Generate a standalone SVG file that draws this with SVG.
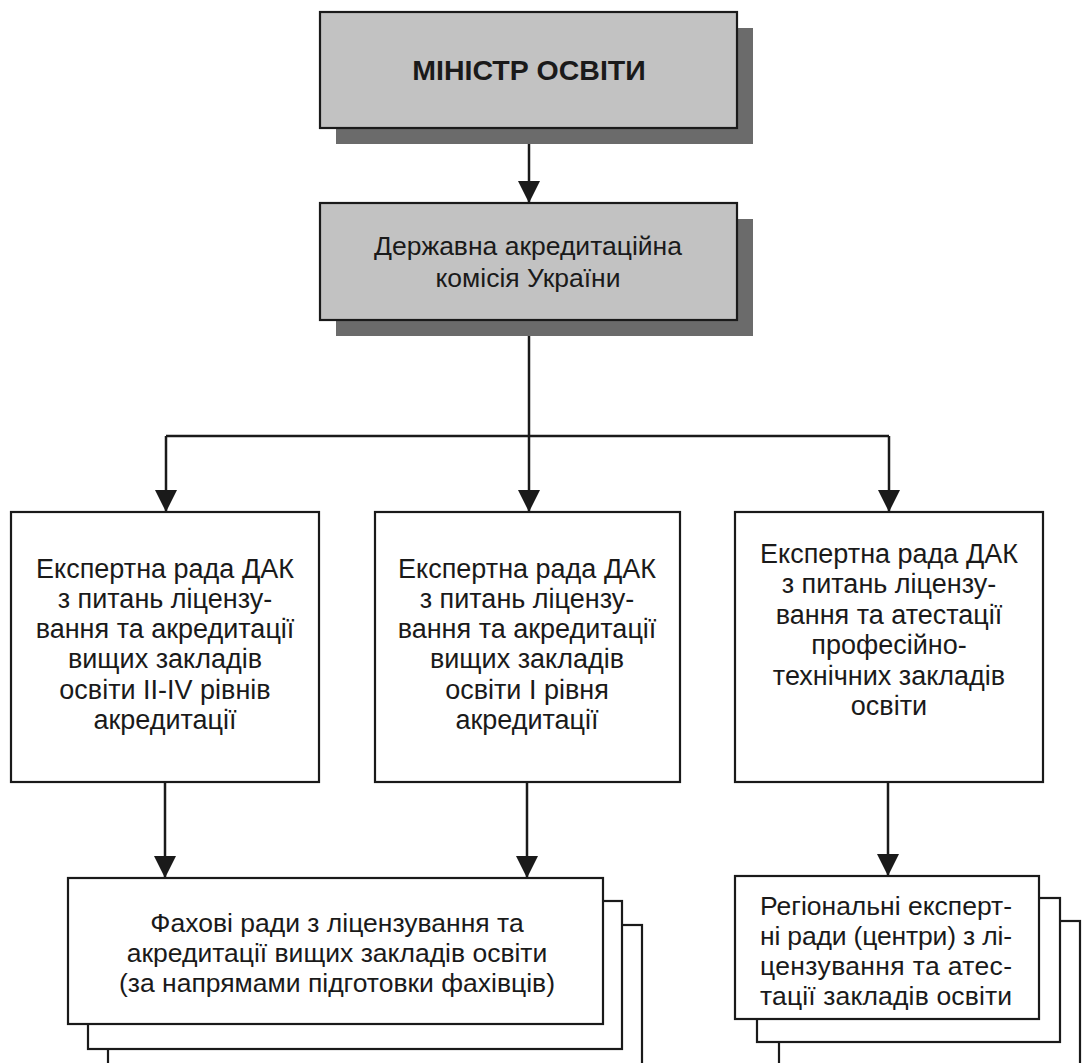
<svg xmlns="http://www.w3.org/2000/svg" width="1083" height="1063" viewBox="0 0 1083 1063">
<style>
  .bg { fill: #ffffff; }
  .box { fill: #ffffff; stroke: #1a1a1a; stroke-width: 2.2; }
  .gbox { fill: #c2c2c2; stroke: #1a1a1a; stroke-width: 2.2; }
  .shadow { fill: #6b6b6b; stroke: none; }
  .t { font-family: "Liberation Sans", Arial, sans-serif; font-size: 26.5px; fill: #1a1a1a; text-anchor: middle; }
  .tc { font-family: "Liberation Sans", Arial, sans-serif; font-size: 27px; fill: #1a1a1a; text-anchor: middle; }
  .tb { font-family: "Liberation Sans", Arial, sans-serif; font-size: 28.5px; font-weight: bold; fill: #1a1a1a; text-anchor: middle; }
  .tj { font-family: "Liberation Sans", Arial, sans-serif; font-size: 26.5px; fill: #1a1a1a; }
  .line { fill: none; stroke: #1a1a1a; stroke-width: 2.5; }
  .arrow { fill: none; stroke: #1a1a1a; stroke-width: 2.5; marker-end: url(#ah); }
</style>
<defs>
  <marker id="ah" markerUnits="userSpaceOnUse" markerWidth="22" markerHeight="22" refX="22" refY="11" orient="auto">
    <path d="M0,0 L22,11 L0,22 Z" fill="#1a1a1a"/>
  </marker>
</defs>
<rect class="bg" x="0" y="0" width="1083" height="1063"/>

<g id="connectors">
  <path class="arrow" d="M529,144 L529,203"/>
  <path class="line" d="M529,336 L529,436"/>
  <path class="line" d="M166,436 L889,436"/>
  <path class="arrow" d="M166,436 L166,512"/>
  <path class="arrow" d="M529,436 L529,512"/>
  <path class="arrow" d="M889,436 L889,512"/>
  <path class="arrow" d="M165,782 L165,878"/>
  <path class="arrow" d="M527,782 L527,878"/>
  <path class="arrow" d="M888,782 L888,876"/>
</g>

<g id="minister">
  <rect class="shadow" x="336" y="28" width="417" height="116"/>
  <rect class="gbox" x="320" y="12" width="417" height="116"/>
  <text class="tb" x="529" y="80">МІНІСТР ОСВІТИ</text>
</g>

<g id="dak">
  <rect class="shadow" x="336" y="219" width="417" height="117"/>
  <rect class="gbox" x="320" y="203" width="417" height="117"/>
  <text class="t" x="528" y="255">Державна акредитаційна</text>
  <text class="t" x="528" y="287">комісія України</text>
</g>

<g id="council-higher-2-4">
  <rect class="box" x="11" y="512" width="308" height="270"/>
  <text class="tc" x="165" y="578">Експертна рада ДАК</text>
  <text class="tc" x="165" y="608">з питань ліцензу-</text>
  <text class="tc" x="165" y="638">вання та акредитації</text>
  <text class="tc" x="165" y="668">вищих закладів</text>
  <text class="tc" x="165" y="699">освіти II-IV рівнів</text>
  <text class="tc" x="165" y="729">акредитації</text>
</g>

<g id="council-higher-1">
  <rect class="box" x="375" y="512" width="305" height="270"/>
  <text class="tc" x="527" y="578">Експертна рада ДАК</text>
  <text class="tc" x="527" y="608">з питань ліцензу-</text>
  <text class="tc" x="527" y="638">вання та акредитації</text>
  <text class="tc" x="527" y="668">вищих закладів</text>
  <text class="tc" x="527" y="699">освіти I рівня</text>
  <text class="tc" x="527" y="729">акредитації</text>
</g>

<g id="council-vocational">
  <rect class="box" x="735" y="512" width="308" height="270"/>
  <text class="tc" x="889" y="563">Експертна рада ДАК</text>
  <text class="tc" x="889" y="593">з питань ліцензу-</text>
  <text class="tc" x="889" y="624">вання та атестації</text>
  <text class="tc" x="889" y="654">професійно-</text>
  <text class="tc" x="889" y="685">технічних закладів</text>
  <text class="tc" x="889" y="715">освіти</text>
</g>

<g id="subject-councils">
  <rect class="box" x="108" y="925" width="534" height="160"/>
  <rect class="box" x="88" y="901" width="534" height="148"/>
  <rect class="box" x="68" y="878" width="535" height="146"/>
  <text class="t" x="337" y="932">Фахові ради з ліцензування та</text>
  <text class="t" x="337" y="962">акредитації вищих закладів освіти</text>
  <text class="t" x="337" y="992">(за напрямами підготовки фахівців)</text>
</g>

<g id="regional-councils">
  <rect class="box" x="779" y="921" width="301" height="160"/>
  <rect class="box" x="757" y="898" width="303" height="144"/>
  <rect class="box" x="735" y="876" width="304" height="143"/>
  <text class="tj" x="760" y="915" textLength="252" lengthAdjust="spacing">Регіональні експерт-</text>
  <text class="tj" x="760" y="945" textLength="252" lengthAdjust="spacing">ні ради (центри) з лі-</text>
  <text class="tj" x="760" y="975" textLength="252" lengthAdjust="spacing">цензування та атес-</text>
  <text class="tj" x="760" y="1005" textLength="252" lengthAdjust="spacing">тації закладів освіти</text>
</g>
</svg>
